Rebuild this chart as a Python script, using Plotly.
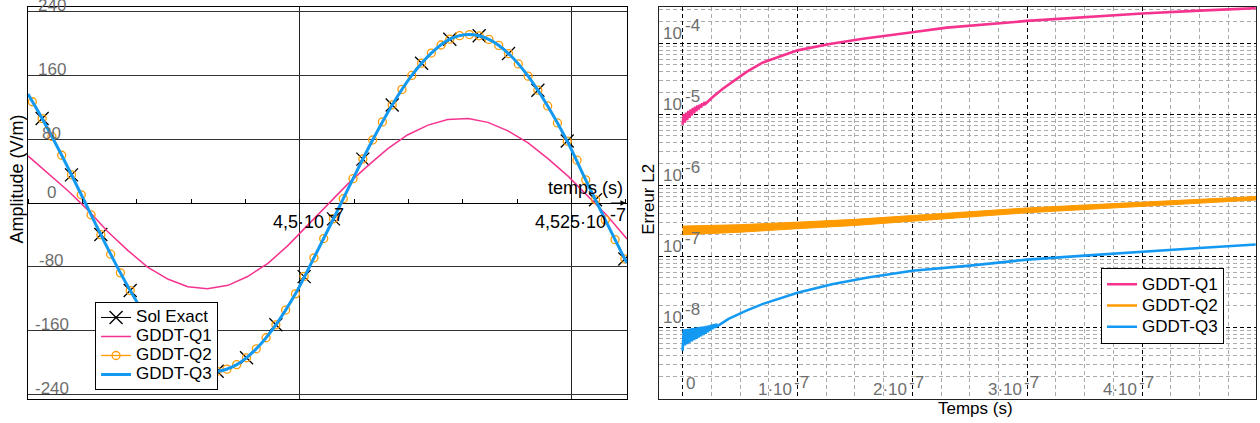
import plotly.graph_objects as go

FONT = "Liberation Sans, Arial, Helvetica, sans-serif"
PINK = "#f5338f"
ORANGE = "#ff9a00"
BLUE = "#1399f2"
GREY = "#6e6e6e"

# ---------------- Left panel: amplitude vs time (time in ns) ----------------
exact_t = [447.63, 447.90, 448.17, 448.44, 448.71, 448.97, 449.24, 449.51, 449.78, 450.04,
           450.31, 450.58, 450.85, 451.12, 451.38, 451.65, 451.92, 452.19, 452.46, 452.72, 452.99]
exact_v = [105.8, 35.2, -39.5, -109.6, -165.8, -201.0, -210.8, -193.9, -152.6, -92.2,
           -19.9, 55.0, 122.8, 175.1, 205.2, 209.4, 187.2, 141.2, 77.7, 4.1, -70.1]

q1_t = [447.50, 447.68, 447.87, 448.05, 448.23, 448.42, 448.60, 448.79, 448.97, 449.15,
        449.34, 449.52, 449.71, 449.89, 450.07, 450.26, 450.44, 450.63, 450.81, 450.99,
        451.18, 451.36, 451.55, 451.73, 451.91, 452.10, 452.28, 452.47, 452.65, 452.83, 453.01]
q1_v = [59.0, 37.0, 15.0, -8.6, -35.3, -59.6, -80.2, -95.6, -104.9, -107.4,
        -103.1, -92.1, -75.2, -53.4, -28.4, -1.3, 23.6, 47.1, 68.0, 85.2,
        97.6, 104.5, 105.7, 101.0, 90.7, 75.4, 55.8, 33.3, 8.7, -16.2, -45.0]

q2_t = [447.54, 447.63, 447.72, 447.81, 447.90, 447.99, 448.08, 448.17, 448.26, 448.35,
        448.44, 448.53, 448.62, 448.70, 448.79, 448.88, 448.97, 449.06, 449.15, 449.24,
        449.33, 449.42, 449.51, 449.60, 449.69, 449.78, 449.87, 449.96, 450.04, 450.13,
        450.22, 450.31, 450.40, 450.49, 450.58, 450.67, 450.76, 450.85, 450.94, 451.03,
        451.12, 451.21, 451.30, 451.38, 451.47, 451.56, 451.65, 451.74, 451.83, 451.92,
        452.01, 452.10, 452.19, 452.28, 452.37, 452.46, 452.55, 452.63, 452.72, 452.81,
        452.90, 452.99]
q2_v = [126.8, 105.8, 83.4, 59.8, 35.3, 10.3, -14.8, -39.7, -64.1, -87.5,
        -109.7, -130.3, -149.1, -165.8, -180.1, -191.9, -201.0, -207.2, -210.5, -210.8,
        -208.1, -202.4, -193.9, -182.6, -168.8, -152.6, -134.1, -113.8, -91.9, -68.7,
        -44.5, -19.7, 5.4, 30.5, 55.1, 78.9, 101.6, 122.8, 142.3, 159.8,
        175.1, 187.8, 197.9, 205.2, 209.6, 211.0, 209.4, 204.9, 197.4, 187.2,
        174.2, 158.9, 141.3, 121.6, 100.3, 77.5, 53.6, 29.0, 4.0, -21.1,
        -45.9, -70.1]

q3_t = [447.50, 447.63, 447.81, 447.99, 448.17, 448.35, 448.53, 448.70, 448.88, 449.06,
        449.24, 449.42, 449.60, 449.78, 449.96, 450.13, 450.31, 450.49, 450.67, 450.85,
        451.03, 451.21, 451.38, 451.56, 451.74, 451.92, 452.10, 452.28, 452.46, 452.63,
        452.81, 452.99, 453.01]
q3_v = [136.4, 105.8, 59.8, 10.3, -39.7, -87.5, -130.3, -165.8, -191.9, -207.2,
        -210.8, -202.4, -182.6, -152.6, -113.8, -68.7, -19.7, 30.5, 78.9, 122.8,
        159.8, 187.8, 205.2, 211.0, 204.9, 187.2, 158.9, 121.6, 77.5, 29.0,
        -21.1, -70.1, -75.1]

amp_tick_vals = [240, 160, 80, 0, -80, -160, -240]
amp_tick_text = ["240", "160", "80", "0", "-80", "-160", "-240"]
time_tick_vals = [450.0, 452.5]
time_tick_text = ["4,5·10", "4,525·10"]
time_tick_exp = "-7"

# ---------------- Right panel: L2 error vs time (time in ns, log10 of error) ----------------
err_q1_t = [0, 1, 2, 3, 4, 5, 6, 7, 8, 9, 10, 11, 12, 13, 14, 15, 16, 17, 18, 19, 20,
            26, 35, 46, 56, 70, 100, 128, 157, 200, 230, 300, 350, 400, 450, 499]
err_q1_log = [-5.150, -4.999, -5.116, -4.976, -5.083, -4.954, -5.049, -4.932, -5.016, -4.909,
              -4.985, -4.894, -4.958, -4.878, -4.932, -4.863, -4.905, -4.847, -4.879, -4.831,
              -4.852, -4.76, -4.64, -4.52, -4.40, -4.27, -4.10, -4.01, -3.935, -3.845,
              -3.78, -3.685, -3.63, -3.58, -3.54, -3.505]

err_q2_t = [0, 50, 100, 150, 200, 250, 300, 350, 400, 450, 499]
err_q2_upper_log = [-6.575, -6.555, -6.519, -6.480, -6.426, -6.372, -6.319, -6.278, -6.240, -6.198, -6.158]
err_q2_lower_log = [-6.697, -6.661, -6.611, -6.566, -6.506, -6.446, -6.387, -6.342, -6.296, -6.252, -6.208]

err_q3_t = [0, 1, 2, 3, 4, 5, 6, 7, 8, 9, 10, 11, 12, 13, 14, 15, 16, 17, 18, 19, 20,
            21, 22, 23, 24, 25, 26, 27, 28, 29, 30,
            40, 55, 70, 100, 130, 160, 200, 250, 300, 350, 400, 450, 499]
err_q3_log = [-8.33, -8.029, -8.254, -8.025, -8.236, -8.021, -8.218, -8.015, -8.199, -8.011,
              -8.182, -8.006, -8.164, -8.001, -8.145, -7.996, -8.128, -7.992, -8.109, -7.987,
              -8.091, -7.981, -8.071, -7.974, -8.049, -7.965, -8.028, -7.958, -8.008, -7.951,
              -7.987, -7.882, -7.769, -7.670, -7.514, -7.394, -7.302, -7.203, -7.132, -7.047,
              -6.990, -6.934, -6.884, -6.834]

err_tick_exps = [-4, -5, -6, -7, -8]
err_time_tick_vals = [0, 100, 200, 300, 400]
err_time_tick_text = ["0", "1·10", "2·10", "3·10", "4·10"]
err_time_tick_exp = ["", "-7", "-7", "-7", "-7"]


def big(name):
    # legend text drawn larger than the legend's own row height
    return "<span style='font-size:17px'>%s</span>" % name


fig = go.Figure()

# left panel traces
fig.add_trace(go.Scatter(
    x=exact_t, y=exact_v, name=big("Sol Exact"), mode="lines+markers",
    line=dict(color="black", width=1, shape="spline"),
    marker=dict(symbol="x-thin", size=13, color="black", line=dict(width=1.3, color="black")),
    xaxis="x", yaxis="y", legend="legend"))
fig.add_trace(go.Scatter(
    x=q1_t, y=q1_v, name=big("GDDT-Q1"), mode="lines",
    line=dict(color=PINK, width=1.5),
    xaxis="x", yaxis="y", legend="legend"))
fig.add_trace(go.Scatter(
    x=q2_t, y=q2_v, name=big("GDDT-Q2"), mode="lines+markers",
    line=dict(color=ORANGE, width=1.3, shape="spline"),
    marker=dict(symbol="circle-open", size=8, color=ORANGE, line=dict(width=1.3, color=ORANGE)),
    xaxis="x", yaxis="y", legend="legend"))
fig.add_trace(go.Scatter(
    x=q3_t, y=q3_v, name=big("GDDT-Q3"), mode="lines",
    line=dict(color=BLUE, width=3, shape="spline"),
    xaxis="x", yaxis="y", legend="legend"))
# helper axis carrying the minor ticks on the zero line
fig.add_trace(go.Scatter(x=[None], y=[None], xaxis="x3", yaxis="y", showlegend=False, hoverinfo="skip"))

# right panel traces
fig.add_trace(go.Scatter(
    x=err_q1_t, y=[10 ** v for v in err_q1_log], name=big("GDDT-Q1"), mode="lines",
    line=dict(color=PINK, width=2.6),
    xaxis="x2", yaxis="y2", legend="legend2"))
band_x = err_q2_t + err_q2_t[::-1]
band_y = [10 ** v for v in err_q2_upper_log] + [10 ** v for v in err_q2_lower_log[::-1]]
fig.add_trace(go.Scatter(
    x=band_x, y=band_y, mode="lines", fill="toself", fillcolor=ORANGE,
    line=dict(color=ORANGE, width=1), showlegend=False, hoverinfo="skip",
    xaxis="x2", yaxis="y2"))
fig.add_trace(go.Scatter(
    x=[None], y=[None], name=big("GDDT-Q2"), mode="lines",
    line=dict(color=ORANGE, width=2.6),
    xaxis="x2", yaxis="y2", legend="legend2"))
fig.add_trace(go.Scatter(
    x=err_q3_t, y=[10 ** v for v in err_q3_log], name=big("GDDT-Q3"), mode="lines",
    line=dict(color=BLUE, width=2.6),
    xaxis="x2", yaxis="y2", legend="legend2"))

anns = []
# left panel y tick labels (inside the frame, grey)
for v, s in zip(amp_tick_vals, amp_tick_text):
    anns.append(dict(xref="x domain", yref="y", x=0.04, y=v, text=s, showarrow=False,
                     xanchor="center", yanchor="middle", yshift=11 if v == 0 else 6,
                     font=dict(color=GREY, size=17)))
# left panel time tick labels under the zero axis, exponent raised
half_w = {"4,5·10": 26, "4,525·10": 36}
for v, s in zip(time_tick_vals, time_tick_text):
    anns.append(dict(xref="x", yref="y", x=v, y=0, text=s, showarrow=False,
                     xanchor="right", xshift=half_w[s], yanchor="top", yshift=-7,
                     font=dict(color="black", size=18)))
    anns.append(dict(xref="x", yref="y", x=v, y=0, text=time_tick_exp, showarrow=False,
                     xanchor="left", xshift=half_w[s], yanchor="top", yshift=0,
                     font=dict(color="black", size=18)))
anns.append(dict(xref="x", yref="y", x=452.99, y=0, text="temps (s)", showarrow=False,
                 xanchor="right", yanchor="bottom", yshift=3, font=dict(size=18)))
anns.append(dict(xref="x", yref="y", x=453.0, y=0, ax=452.85, ay=0, axref="x", ayref="y",
                 text="", showarrow=True, arrowhead=2, arrowsize=1.1, arrowwidth=1,
                 arrowcolor="black"))
# right panel decade labels
for e in err_tick_exps:
    anns.append(dict(xref="x2 domain", yref="y2", x=0, y=e, text="10",
                     showarrow=False, xanchor="left", xshift=2, yanchor="bottom", yshift=-2,
                     font=dict(color=GREY, size=17)))
    anns.append(dict(xref="x2 domain", yref="y2", x=0, y=e, text=str(e),
                     showarrow=False, xanchor="left", xshift=24, yanchor="bottom", yshift=6,
                     font=dict(color=GREY, size=17)))
# right panel time labels
for v, s, ex in zip(err_time_tick_vals, err_time_tick_text, err_time_tick_exp):
    if ex == "":
        anns.append(dict(xref="x2", yref="y2 domain", x=v, y=0, text=s, showarrow=False,
                         xanchor="left", xshift=1, yanchor="bottom", yshift=4,
                         font=dict(color=GREY, size=17)))
    else:
        anns.append(dict(xref="x2", yref="y2 domain", x=v, y=0, text=s, showarrow=False,
                         xanchor="right", xshift=-3, yanchor="bottom", yshift=-2,
                         font=dict(color=GREY, size=17)))
        anns.append(dict(xref="x2", yref="y2 domain", x=v, y=0, text=ex, showarrow=False,
                         xanchor="left", xshift=-5, yanchor="bottom", yshift=5,
                         font=dict(color=GREY, size=17)))
# axis titles
anns.append(dict(xref="paper", yref="paper", x=-0.0086, y=0.561, text="Amplitude (V/m)",
                 textangle=-90, showarrow=False, xanchor="center", yanchor="middle",
                 font=dict(size=18)))
anns.append(dict(xref="paper", yref="paper", x=0.5051, y=0.509, text="Erreur L2",
                 textangle=-90, showarrow=False, xanchor="center", yanchor="middle",
                 font=dict(size=17)))
anns.append(dict(xref="paper", yref="paper", x=0.7712, y=-0.0255, text="Temps (s)",
                 showarrow=False, xanchor="center", yanchor="middle", font=dict(size=17)))

fig.update_layout(
    width=1260, height=423,
    margin=dict(l=28, r=4, t=7, b=24, autoexpand=False),
    paper_bgcolor="white", plot_bgcolor="white",
    font=dict(family=FONT, size=17, color="black"),
    showlegend=True,
    xaxis=dict(domain=[0, 0.4878], anchor="y", range=[447.5, 453.01], tickvals=time_tick_vals,
               showticklabels=False, ticks="", showgrid=True, gridcolor="#222", gridwidth=1,
               zeroline=False, showline=True, mirror=True, linecolor="black", linewidth=1),
    yaxis=dict(domain=[0, 1], anchor="x", range=[-245.5, 245.5], tickvals=amp_tick_vals,
               showticklabels=False, ticks="", showgrid=True, gridcolor="#333", gridwidth=1,
               zeroline=True, zerolinecolor="black", zerolinewidth=1,
               showline=True, mirror=True, linecolor="black", linewidth=1),
    xaxis3=dict(overlaying="x", anchor="free", position=0.5, side="top",
                range=[447.5, 453.01], tick0=447.5, dtick=0.5, ticks="outside", ticklen=4,
                tickcolor="black", showticklabels=False, showgrid=False, zeroline=False,
                showline=False),
    xaxis2=dict(domain=[0.5138, 1], anchor="y2", range=[-20.6, 499.2], tick0=0, dtick=100,
                showticklabels=False, ticks="", showgrid=True, gridcolor="black", gridwidth=1,
                griddash="4px,3px",
                minor=dict(tick0=0, dtick=25, showgrid=True, gridcolor="#ababab",
                           griddash="4px,3px", gridwidth=1),
                zeroline=False, showline=True, mirror=True, linecolor="#222", linewidth=1),
    yaxis2=dict(domain=[0, 1], anchor="x2", type="log", range=[-9.01, -3.489], dtick=1,
                showticklabels=False, ticks="", showgrid=True, gridcolor="black", gridwidth=1,
                griddash="4px,3px",
                minor=dict(dtick="D1", showgrid=True, gridcolor="#ababab",
                           griddash="4px,3px", gridwidth=1),
                zeroline=False, showline=True, mirror=True, linecolor="#222", linewidth=1),
    legend=dict(x=0.0546, y=0.2475, xanchor="left", yanchor="top", xref="paper", yref="paper",
                bgcolor="white", bordercolor="black", borderwidth=1,
                font=dict(size=12, color="black"), tracegroupgap=0, itemwidth=30),
    legend2=dict(x=0.8738, y=0.3349, xanchor="left", yanchor="top", xref="paper", yref="paper",
                 bgcolor="white", bordercolor="black", borderwidth=1,
                 font=dict(size=14, color="black"), tracegroupgap=0, itemwidth=30),
    annotations=anns,
)

fig.write_html("out.html", config={"displayModeBar": False},
               post_script="document.body.style.margin='0px';")
